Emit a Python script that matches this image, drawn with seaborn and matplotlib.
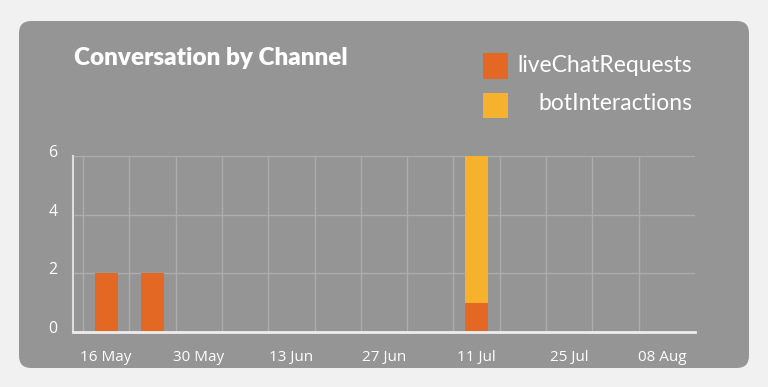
import numpy as np
import pandas as pd
import matplotlib
matplotlib.use("Agg")
import matplotlib.pyplot as plt
import matplotlib.transforms as mtrans
from matplotlib.patches import FancyBboxPatch, Rectangle
import seaborn as sns

weeks = ["16 May", "23 May", "30 May", "06 Jun", "13 Jun", "20 Jun", "27 Jun",
         "04 Jul", "11 Jul", "18 Jul", "25 Jul", "01 Aug", "08 Aug"]
live_chat = [2, 2, 0, 0, 0, 0, 0, 0, 1, 0, 0, 0, 0]
bot_inter = [0, 0, 0, 0, 0, 0, 0, 0, 5, 0, 0, 0, 0]
series_names = ["liveChatRequests", "botInteractions"]
y_ticks = [0, 2, 4, 6]

ORANGE = "#E36823"
YELLOW = "#F6B22D"
CARD = "#959595"
OUTER = "#F2F1F2"
GRID = "#ADADAD"

sns.set_theme(style="white")
plt.rcParams["font.family"] = ["Open Sans", "DejaVu Sans"]

W, H = 768, 387
fig = plt.figure(figsize=(W / 100, H / 100), dpi=100)
fig.patch.set_facecolor(OUTER)

card = FancyBboxPatch((19 / W, 19 / H), (749 - 19) / W, (366 - 19) / H,
                      boxstyle="round,pad=0,rounding_size=0.016",
                      transform=fig.transFigure, facecolor=CARD, edgecolor="none",
                      mutation_aspect=W / H, zorder=-5)
fig.patches.append(card)

ax = fig.add_axes([73 / W, (H - 332) / H, (695 - 73) / W, (332 - 156) / H])
ax.set_facecolor("none")
ax.set_zorder(1)

df = pd.DataFrame({"week": weeks, "live": live_chat, "bot": bot_inter})
df["total"] = df["live"] + df["bot"]

sns.barplot(data=df, x="week", y="total", order=weeks, color=YELLOW,
            width=0.5, saturation=1, linewidth=0, ax=ax, zorder=3)
sns.barplot(data=df, x="week", y="live", order=weeks, color=ORANGE,
            width=0.5, saturation=1, linewidth=0, ax=ax, zorder=4)

ax.set_xlim(-0.716, 12.716)
ax.set_ylim(0, 6)
ax.set_xlabel("")
ax.set_ylabel("")

ax.set_xticks(range(0, len(weeks), 2))
ax.set_xticklabels(weeks[::2])
ax.set_xticks(np.arange(-0.5, len(weeks) - 1, 1), minor=True)
ax.set_yticks(y_ticks)
ax.set_yticklabels([str(v) for v in y_ticks])

ax.grid(False)
ax.grid(True, which="minor", axis="x", color=GRID, linewidth=1, zorder=1)
ax.grid(True, which="major", axis="y", color=GRID, linewidth=1, zorder=1)
ax.set_axisbelow(True)

ax.tick_params(axis="x", which="both", length=0, pad=13, labelsize=11, labelcolor="white")
ax.tick_params(axis="y", which="both", length=0, pad=11, labelsize=11.5, labelcolor="white")

offset = mtrans.ScaledTranslation(0, 5 / 100, fig.dpi_scale_trans)
for lab in ax.get_yticklabels():
    lab.set_transform(lab.get_transform() + offset)

for s in ["top", "right"]:
    ax.spines[s].set_visible(False)
ax.spines["left"].set_color("#DDDDDD")
ax.spines["left"].set_linewidth(1.5)
ax.spines["bottom"].set_color("#EEEEEE")
ax.spines["bottom"].set_linewidth(2)
ax.spines["left"].set_zorder(5)
ax.spines["bottom"].set_zorder(5)

fig.text(74 / W, 1 - 58 / H, "Conversation by Channel", color="white",
         fontsize=17.5, fontweight="heavy", family=["Lato", "DejaVu Sans"],
         ha="left", va="center")

leg = [(series_names[0], ORANGE, 53, 79, 65), (series_names[1], YELLOW, 93, 118, 104)]
for name, col, top, bot, cy in leg:
    fig.patches.append(Rectangle((483 / W, 1 - bot / H), 25 / W, (bot - top) / H,
                                 transform=fig.transFigure, facecolor=col,
                                 edgecolor="none", zorder=2))
    fig.text(692 / W, 1 - cy / H, name, color="white", fontsize=16.5,
             family=["Lato", "DejaVu Sans"], ha="right", va="center")

fig.savefig("out.png", dpi=100, facecolor=OUTER)
